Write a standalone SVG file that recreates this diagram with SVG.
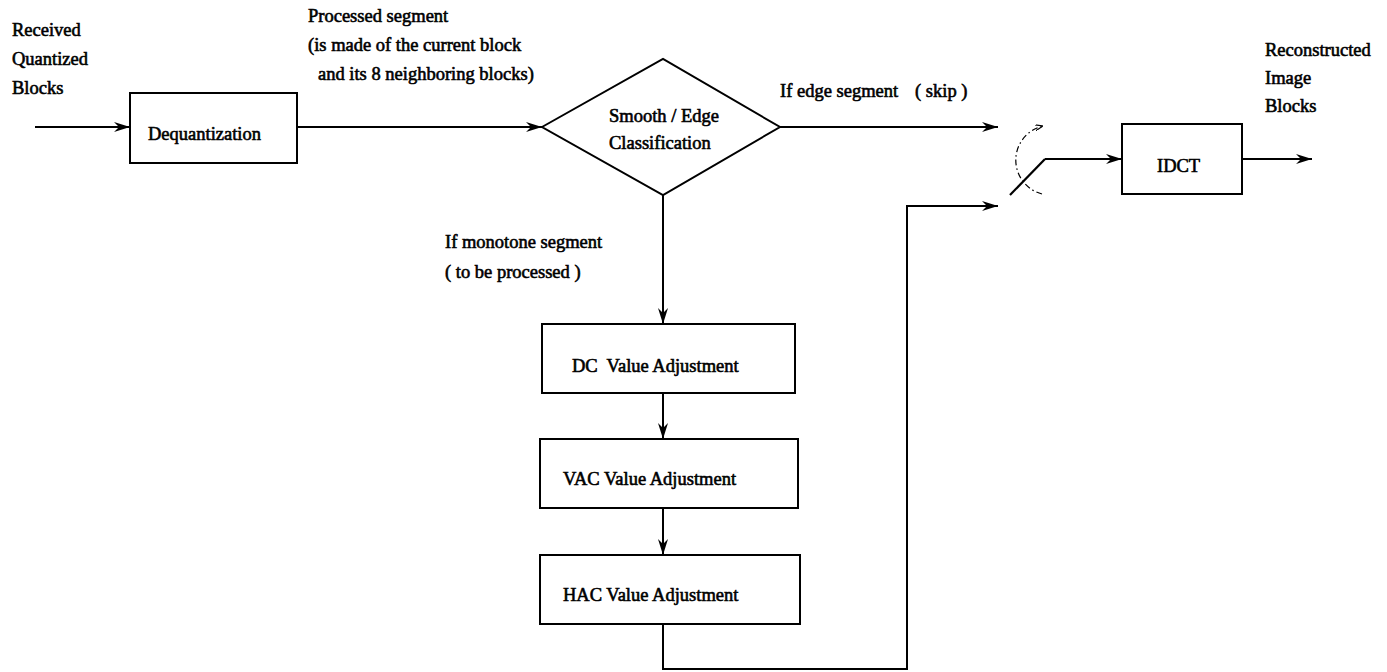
<svg xmlns="http://www.w3.org/2000/svg" width="1387" height="672" viewBox="0 0 1387 672">
<defs>
<style>
text{font-family:"Liberation Serif","Times New Roman",serif;font-size:18.5px;fill:#000;stroke:#000;stroke-width:0.6}
.box{fill:#fff;stroke:#000;stroke-width:2}
.ln{fill:none;stroke:#000;stroke-width:2.2}
.arr{fill:none;stroke:#000;stroke-width:2;marker-end:url(#ah)}
.dash{fill:none;stroke:#000;stroke-width:1.2;stroke-dasharray:6 3 1.5 3}
</style>
<marker id="ah" viewBox="0 0 16 10" refX="16" refY="5" markerWidth="16" markerHeight="10" markerUnits="userSpaceOnUse" orient="auto">
<path d="M0,0 L16,5 L0,10 L5,5 Z" fill="#000"/>
</marker>
<marker id="ahs" viewBox="0 0 8 6" refX="8" refY="3" markerWidth="8" markerHeight="6" markerUnits="userSpaceOnUse" orient="auto">
<path d="M0,0 L8,3 L0,6" fill="none" stroke="#000" stroke-width="1.2"/>
</marker>
</defs>
<rect width="1387" height="672" fill="#fff"/>

<g id="labels">
<text x="12" y="36">Received</text>
<text x="12" y="65">Quantized</text>
<text x="12" y="94">Blocks</text>
<text x="308" y="22">Processed segment</text>
<text x="308" y="51">(is made of the current block</text>
<text x="318" y="80">and its 8 neighboring blocks)</text>
<text x="780" y="97">If edge segment</text>
<text x="915" y="97">( skip )</text>
<text x="445" y="248">If monotone segment</text>
<text x="445" y="278">( to be processed )</text>
<text x="1265" y="56">Reconstructed</text>
<text x="1265" y="84">Image</text>
<text x="1265" y="112">Blocks</text>
</g>

<g id="connectors">
<line class="arr" x1="35" y1="127" x2="130" y2="127"/>
<line class="arr" x1="297" y1="127" x2="542" y2="127"/>
<line class="arr" x1="780" y1="127" x2="998" y2="127"/>
<line class="arr" x1="663" y1="195" x2="663" y2="324"/>
<line class="arr" x1="663" y1="393" x2="663" y2="439"/>
<line class="arr" x1="663" y1="508" x2="663" y2="555"/>
<polyline class="arr" points="663,624 663,669 907,669 907,206 998,206"/>
<line class="ln" x1="1010" y1="195" x2="1045" y2="159"/>
<line class="arr" x1="1045" y1="159" x2="1122" y2="159"/>
<line class="arr" x1="1242" y1="159" x2="1312" y2="159"/>
<path class="dash" d="M1042,194 A35,35 0 0 1 1043,126" marker-end="url(#ahs)"/>
</g>

<g id="dequantization">
<rect class="box" x="130" y="93" width="167" height="70"/>
<text x="148" y="140">Dequantization</text>
</g>

<g id="classification">
<polygon class="box" points="542,127 663,59 780,127 663,195"/>
<text x="609" y="122">Smooth / Edge</text>
<text x="609" y="149">Classification</text>
</g>

<g id="dc">
<rect class="box" x="542" y="324" width="253" height="69"/>
<text x="572" y="372" xml:space="preserve">DC  Value Adjustment</text>
</g>

<g id="vac">
<rect class="box" x="540" y="439" width="258" height="69"/>
<text x="563" y="485">VAC Value Adjustment</text>
</g>

<g id="hac">
<rect class="box" x="540" y="555" width="260" height="69"/>
<text x="563" y="601">HAC Value Adjustment</text>
</g>

<g id="idct">
<rect class="box" x="1122" y="124" width="120" height="70"/>
<text x="1157" y="172">IDCT</text>
</g>
</svg>
